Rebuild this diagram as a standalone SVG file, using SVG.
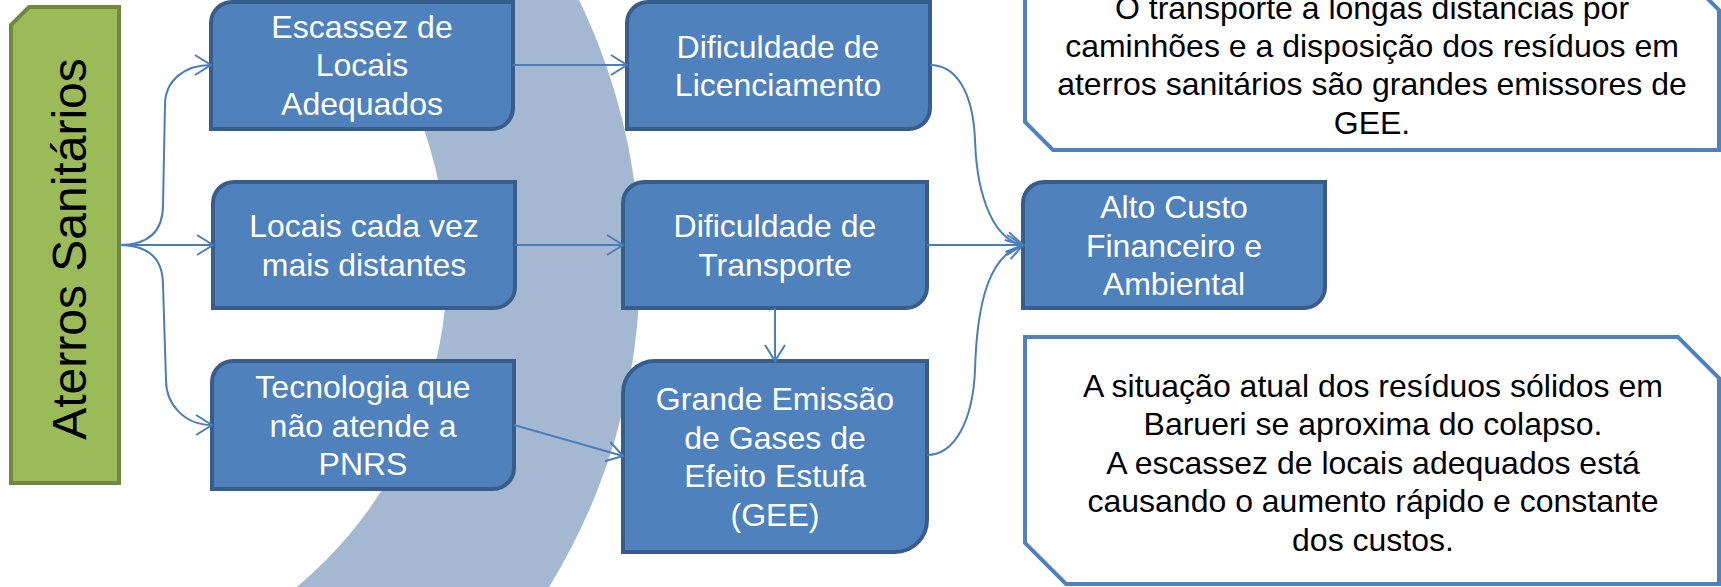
<svg xmlns="http://www.w3.org/2000/svg" width="1721" height="587" viewBox="0 0 1721 587">
<style>
.box{fill:#4f81bd;stroke:#385d8a;stroke-width:4}
.bt{font-family:"Liberation Sans",Arial,sans-serif;font-size:32px;fill:#ffffff;text-anchor:middle}
.ct{font-family:"Liberation Sans",Arial,sans-serif;font-size:32px;fill:#000000;text-anchor:middle}
.call{fill:#ffffff;stroke:#4f81bd;stroke-width:4}
.con{fill:none;stroke:#4a7ebb;stroke-width:2;marker-end:url(#arr)}
</style>
<defs>
<marker id="arr" markerUnits="userSpaceOnUse" markerWidth="24" markerHeight="24" viewBox="-20 -12 22 24" refX="0" refY="0" orient="auto">
<path d="M-16,-10 L0,0 L-16,10" fill="none" stroke="#4a7ebb" stroke-width="2"/>
</marker>
</defs>
<g id="ring">
<circle cx="29" cy="266" r="514.5" fill="none" stroke="#a5b8d2" stroke-width="193"/>
</g>
<g id="callout-top">
<path class="call" d="M1025,-18 L1691,-18 L1719,10 L1719,150 L1053,150 L1025,122 Z"/>
<text class="ct" x="1372" y="18.5">O transporte a longas distancias por</text>
<text class="ct" x="1372" y="56.9">caminhões e a disposição dos resíduos em</text>
<text class="ct" x="1372" y="95.3">aterros sanitários são grandes emissores de</text>
<text class="ct" x="1372" y="133.7">GEE.</text>
</g>
<g id="callout-bottom">
<path class="call" d="M1025,337 L1678,337 L1719,378 L1719,584 L1066,584 L1025,543 Z"/>
<text class="ct" x="1373" y="396.9">A situação atual dos resíduos sólidos em</text>
<text class="ct" x="1373" y="435.3">Barueri se aproxima do colapso.</text>
<text class="ct" x="1373" y="473.7">A escassez de locais adequados está</text>
<text class="ct" x="1373" y="512.1">causando o aumento rápido e constante</text>
<text class="ct" x="1373" y="550.5">dos custos.</text>
</g>
<g id="aterros">
<path d="M11,25 L29,7 L119,7 L119,483 L11,483 Z" fill="#9bbb59" stroke="#71893f" stroke-width="4"/>
<text transform="translate(86,249) rotate(-90)" x="0" y="0" font-family="'Liberation Sans',Arial,sans-serif" font-size="48" fill="#000000" text-anchor="middle">Aterros Sanitários</text>
</g>
<g id="escassez">
<path class="box" d="M232,2 L513,2 L513,108 A21,21 0 0 1 492,129 L211,129 L211,23 A21,21 0 0 1 232,2 Z"/>
<text class="bt" x="362" y="38">Escassez de</text>
<text class="bt" x="362" y="76.4">Locais</text>
<text class="bt" x="362" y="114.8">Adequados</text>
</g>
<g id="locais">
<path class="box" d="M234,182 L515,182 L515,287 A21,21 0 0 1 494,308 L213,308 L213,203 A21,21 0 0 1 234,182 Z"/>
<text class="bt" x="364" y="237.3">Locais cada vez</text>
<text class="bt" x="364" y="275.7">mais distantes</text>
</g>
<g id="tecnologia">
<path class="box" d="M233,361 L514,361 L514,468 A21,21 0 0 1 493,489 L212,489 L212,382 A21,21 0 0 1 233,361 Z"/>
<text class="bt" x="363" y="398.1">Tecnologia que</text>
<text class="bt" x="363" y="436.5">não atende a</text>
<text class="bt" x="363" y="474.9">PNRS</text>
</g>
<g id="licenciamento">
<path class="box" d="M648,2 L930,2 L930,108 A21,21 0 0 1 909,129 L627,129 L627,23 A21,21 0 0 1 648,2 Z"/>
<text class="bt" x="778" y="57.5">Dificuldade de</text>
<text class="bt" x="778" y="95.9">Licenciamento</text>
</g>
<g id="transporte">
<path class="box" d="M644,182 L927,182 L927,287 A21,21 0 0 1 906,308 L623,308 L623,203 A21,21 0 0 1 644,182 Z"/>
<text class="bt" x="775" y="237.3">Dificuldade de</text>
<text class="bt" x="775" y="275.7">Transporte</text>
</g>
<g id="emissao">
<path class="box" d="M655,361 L927,361 L927,520 A32,32 0 0 1 895,552 L623,552 L623,393 A32,32 0 0 1 655,361 Z"/>
<text class="bt" x="775" y="410.4">Grande Emissão</text>
<text class="bt" x="775" y="448.8">de Gases de</text>
<text class="bt" x="775" y="487.2">Efeito Estufa</text>
<text class="bt" x="775" y="525.6">(GEE)</text>
</g>
<g id="custo">
<path class="box" d="M1044,182 L1325,182 L1325,287 A21,21 0 0 1 1304,308 L1023,308 L1023,203 A21,21 0 0 1 1044,182 Z"/>
<text class="bt" x="1174" y="218.1">Alto Custo</text>
<text class="bt" x="1174" y="256.5">Financeiro e</text>
<text class="bt" x="1174" y="294.9">Ambiental</text>
</g>
<g id="connectors">
<path class="con" d="M119,245 C145,245 163,235 163,205 L165,105 C165,80 185,65 211,65"/>
<path class="con" d="M119,245 L213,245"/>
<path class="con" d="M119,245 C145,245 163,255 163,285 L166,380 C166,405 185,425 212,425"/>
<path class="con" d="M513,65 L627,65"/>
<path class="con" d="M515,245 L623,245"/>
<path class="con" d="M514,425 L623,456"/>
<path class="con" d="M775,308 L775,361"/>
<path class="con" d="M927,245 L1023,245"/>
<path class="con" d="M930,65 C955,65 973,90 975,140 C977,200 995,240 1023,245"/>
<path class="con" d="M927,455 C955,455 973,420 975,370 C977,300 990,255 1023,245"/>
</g>
</svg>
